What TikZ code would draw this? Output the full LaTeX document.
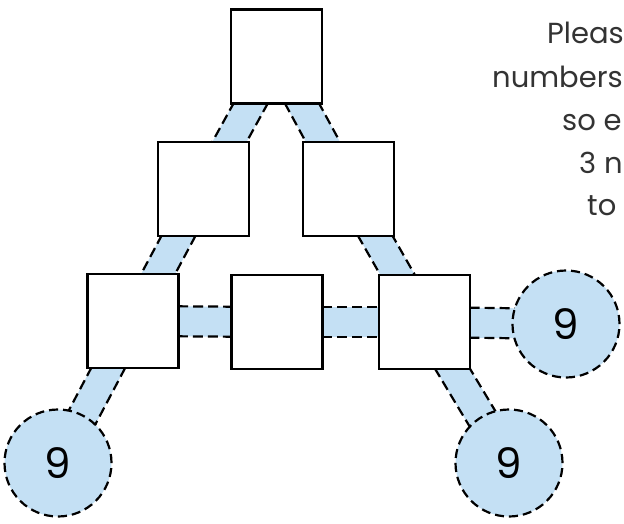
\documentclass[tikz,border=0pt]{standalone}
\usepackage{fontspec}
\setmainfont{Poppins}
\usetikzlibrary{calc,backgrounds}
\definecolor{bandblue}{RGB}{196,224,244}
\tikzset{
  x=1pt,y=-1pt,
  box/.style={draw=black,line width=2.4pt,fill=white,minimum width=91pt,minimum height=94pt,inner sep=0pt,outer sep=0pt},
  disc/.style={circle,draw=black,line width=2.2pt,dash pattern=on 9pt off 5pt,fill=bandblue,minimum size=107pt,inner sep=0pt,outer sep=0pt,font=\fontsize{42}{42}\selectfont},
  bandfill/.style={draw=bandblue,line width=30pt},
  bandedge/.style={draw=black,line width=2.2pt,dash pattern=on 10pt off 5pt},
  caption/.style={anchor=base west,inner sep=0pt,font=\fontsize{29}{29}\selectfont,text=black!80}
}
\newcommand\bandlink[2]{%
  \draw[bandfill] (#1.center) -- (#2.center);
  \draw[bandedge] ($(#1.center)!15pt!90:(#2.center)$) -- ($(#2.center)!15pt!-90:(#1.center)$);
  \draw[bandedge] ($(#1.center)!15pt!-90:(#2.center)$) -- ($(#2.center)!15pt!90:(#1.center)$);
}
\begin{document}
\begin{tikzpicture}
\useasboundingbox (0,0) rectangle (624,523);
% boxes
\node[box] (top) at (276.5,56.5) {};
\node[box] (ml) at (203.5,189) {};
\node[box] (mr) at (348.5,189) {};
\node[box] (bl) at (133,321) {};
\node[box] (bm) at (277,322) {};
\node[box] (br) at (424.5,322) {};
% circles
\node[disc] (cr) at (566,324) {9};
\node[disc] (cbr) at (509,463) {9};
\node[disc] (cbl) at (58,463) {9};
% connectors
\begin{scope}[on background layer]
\bandlink{top}{ml}
\bandlink{top}{mr}
\bandlink{ml}{bl}
\bandlink{mr}{br}
\bandlink{bl}{bm}
\bandlink{bm}{br}
\bandlink{br}{cr}
\bandlink{br}{cbr}
\bandlink{bl}{cbl}
\end{scope}
% text
\begin{scope}
\clip (0,0) rectangle (624,523);
\node[caption] (t1) at (547,43) {Pleas};
\node[caption] (t2) at (492,87) {numbers};
\node[caption] (t3) at (562,130) {so e};
\node[caption] (t4) at (579,173) {3 n};
\node[caption] (t5) at (587,215) {to};
\end{scope}
\end{tikzpicture}
\end{document}
